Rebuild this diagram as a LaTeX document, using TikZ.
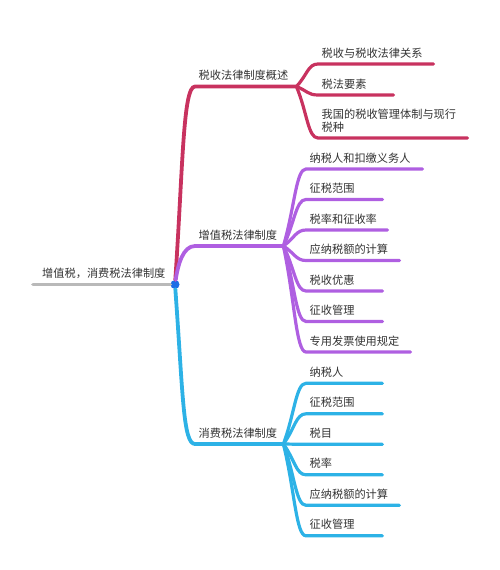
\documentclass[tikz,border=0pt]{standalone}
\usepackage{fontspec}
\setmainfont{Noto Sans CJK SC}
\usetikzlibrary{calc}
\definecolor{txt}{RGB}{51,51,51}
\definecolor{crim}{RGB}{200,50,95}
\definecolor{purp}{RGB}{175,95,225}
\definecolor{sky}{RGB}{45,178,230}
\definecolor{dotblue}{RGB}{30,110,230}
\definecolor{rootgray}{RGB}{185,185,185}
\begin{document}
\begin{tikzpicture}[
	x=1pt,y=-1pt,
	lbl/.style={anchor=south west,inner xsep=3.5pt,inner ysep=4.7pt,text height=9pt,text depth=2pt,
		align=left,text=txt,font=\fontsize{11.2}{12.5}\selectfont},
	main/.style={line width=3.8pt,line cap=round},
	sub/.style={line width=3.2pt,line cap=round}
	]
	\useasboundingbox (0,0) rectangle (500,570);
	
	\def\gap{30.5}
	\node[circle,fill=dotblue,inner sep=0pt,minimum size=9pt] (root) at (175,284.5) {};
	\node[lbl,inner xsep=9pt,text width=124pt] (rt) at (33,284.5) {增值税，消费税法律制度};
	\draw[main,rootgray] (rt.south west) -- (root);
	
	% first branch
	\node[lbl,text width=94pt] (b1) at (195,86.5) {税收法律制度概述};
	\node[lbl,text width=108pt] (t11) at (318,64) {税收与税收法律关系};
	\node[lbl,text width=68pt] (t12) at (318,95) {税法要素};
	\node[lbl,text width=142pt,text depth=14.5pt] (t13) at (318,138) {我国的税收管理体制与现行\\税种};
	\draw[main,crim] (root) .. controls +(8,-120) and +(-12,0) .. (b1.south west) -- (b1.south east);
	\foreach \k in {1,2,3}
	\draw[sub,crim] (b1.south east) .. controls ($(b1.south east)!0.5!(t1\k.south west)$) and +(-10,0) .. (t1\k.south west) -- (t1\k.south east);
	
	% second branch
	\node[lbl,text width=81pt] (b2) at (195,246) {增值税法律制度};
	\node[lbl,text width=109pt] (t21) at (306,169) {纳税人和扣缴义务人};
	\node[lbl,text width=69pt] (t22) at (306,169+\gap) {征税范围};
	\node[lbl,text width=74pt] (t23) at (306,169+2*\gap) {税率和征收率};
	\node[lbl,text width=86pt] (t24) at (306,169+3*\gap) {应纳税额的计算};
	\node[lbl,text width=69pt] (t25) at (306,169+4*\gap) {税收优惠};
	\node[lbl,text width=69pt] (t26) at (306,169+5*\gap) {征收管理};
	\node[lbl,text width=97pt] (t27) at (306,169+6*\gap) {专用发票使用规定};
	\draw[main,purp] (root) .. controls +(3,-20) and +(-12,0) .. (b2.south west) -- (b2.south east);
	\foreach \k in {1,...,7}
	\draw[sub,purp] (b2.south east) .. controls ($(b2.south east)!0.5!(t2\k.south west)$) and +(-10,0) .. (t2\k.south west) -- (t2\k.south east);
	
	% third branch
	\node[lbl,text width=81pt] (b3) at (195,444) {消费税法律制度};
	\node[lbl,text width=69pt] (t31) at (306,383.3) {纳税人};
	\node[lbl,text width=69pt] (t32) at (306,383.3+\gap) {征税范围};
	\node[lbl,text width=69pt] (t33) at (306,383.3+2*\gap) {税目};
	\node[lbl,text width=69pt] (t34) at (306,383.3+3*\gap) {税率};
	\node[lbl,text width=86pt] (t35) at (306,383.3+4*\gap) {应纳税额的计算};
	\node[lbl,text width=69pt] (t36) at (306,383.3+5*\gap) {征收管理};
	\draw[main,sky] (root) .. controls +(8,110) and +(-12,0) .. (b3.south west) -- (b3.south east);
	\foreach \k in {1,...,6}
	\draw[sub,sky] (b3.south east) .. controls ($(b3.south east)!0.5!(t3\k.south west)$) and +(-10,0) .. (t3\k.south west) -- (t3\k.south east);
\end{tikzpicture}
\end{document}
